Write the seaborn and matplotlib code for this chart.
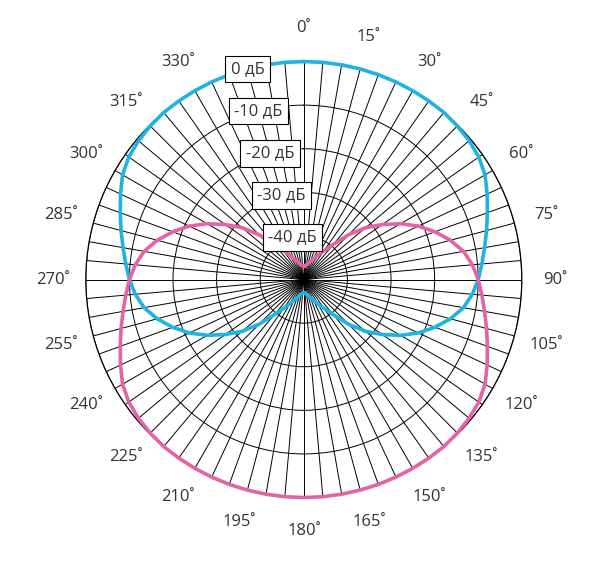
import numpy as np
import pandas as pd
import matplotlib
matplotlib.use('Agg')
import matplotlib.pyplot as plt
import seaborn as sns

# angles of the readings, degrees (0 at top, clockwise)
angles = list(range(0, 360, 5))

front_db = [0, 0, 0, 0, 0, 0, 0, 0, 0, -0.2, -0.5, -1.0, -2.0, -3.6, -5.2, -6.6, -7.9, -9.0,
            -10.0, -11.2, -12.8, -15.2, -18.0, -21.0, -24.4, -28.0, -31.5, -35.5, -39.5, -42.0,
            -43.5, -44.8, -45.6, -46.2, -46.6, -46.9, -47.0,
            -46.9, -46.6, -46.2, -45.6, -44.8, -43.5, -42.0, -39.5, -35.5, -31.5, -28.0, -24.4,
            -21.0, -18.0, -15.2, -12.8, -11.2, -10.0, -9.0, -7.9, -6.6, -5.2, -3.6, -2.0, -1.0,
            -0.5, -0.2, 0, 0, 0, 0, 0, 0, 0, 0]

# rear (pink) pattern, dB
rear_db = [-47.0, -46.9, -46.6, -46.2, -45.6, -44.8, -43.5, -42.0, -39.5, -35.5, -31.5, -28.0,
           -24.4, -21.0, -18.0, -15.2, -12.8, -11.2, -10.0, -9.0, -7.9, -6.6, -5.2, -3.6, -2.0,
           -1.0, -0.5, -0.2, 0, 0, 0, 0, 0, 0, 0, 0, 0,
           0, 0, 0, 0, 0, 0, 0, 0, -0.2, -0.5, -1.0, -2.0, -3.6, -5.2, -6.6, -7.9, -9.0,
           -10.0, -11.2, -12.8, -15.2, -18.0, -21.0, -24.4, -28.0, -31.5, -35.5, -39.5, -42.0,
           -43.5, -44.8, -45.6, -46.2, -46.6, -46.9]

ring_db = [-40, -30, -20, -10, 0]
ring_labels = ['-40 дБ', '-30 дБ', '-20 дБ', '-10 дБ', '0 дБ']
# 345 is left out in the original
angle_ticks = list(range(0, 345, 15))
angle_labels = ['{}˚'.format(a) for a in angle_ticks]

blue = '#1db4e4'
pink = '#e263a6'

sns.set_style('white')
plt.rcParams['font.family'] = ['Open Sans', 'DejaVu Sans']

# closed loops
th = np.deg2rad(angles + [360])
df = pd.concat([
    pd.DataFrame({'theta': th, 'db': front_db + front_db[:1], 'curve': 'front'}),
    pd.DataFrame({'theta': th, 'db': rear_db + rear_db[:1], 'curve': 'rear'}),
])

fig = plt.figure(figsize=(5.99, 5.63), dpi=100)
ax = fig.add_axes([0.1432, 0.1163, 0.728, 0.7744], projection='polar')
ax.set_theta_zero_location('N')
ax.set_theta_direction(-1)

sns.lineplot(data=df, x='theta', y='db', hue='curve', palette={'front': blue, 'rear': pink},
             sort=False, estimator=None, linewidth=2.6, legend=False, ax=ax, zorder=3)
for ln in ax.lines:
    ln.set_clip_on(False)

ax.set_ylim(-50, 0)
ax.set_xlabel('')
ax.set_ylabel('')
ax.set_thetagrids(np.arange(0, 360, 5), [''] * 72)
ax.set_rgrids(ring_db, [''] * len(ring_db))
ax.grid(True, color='black', linewidth=0.7)
ax.spines['polar'].set_color('black')
ax.spines['polar'].set_linewidth(0.9)

for a, lab in zip(angle_ticks, angle_labels):
    ax.text(np.deg2rad(a), 7.6, lab, ha='center', va='center', fontsize=12,
            color='#333333', clip_on=False)

for v, lab in zip(ring_db, ring_labels):
    ax.text(np.deg2rad(345), v, lab, ha='center', va='center', fontsize=12, color='#333333',
            zorder=5, bbox=dict(boxstyle='square,pad=0.32', fc='white', ec='black', lw=0.8))

plt.savefig('out.png', dpi=100)
